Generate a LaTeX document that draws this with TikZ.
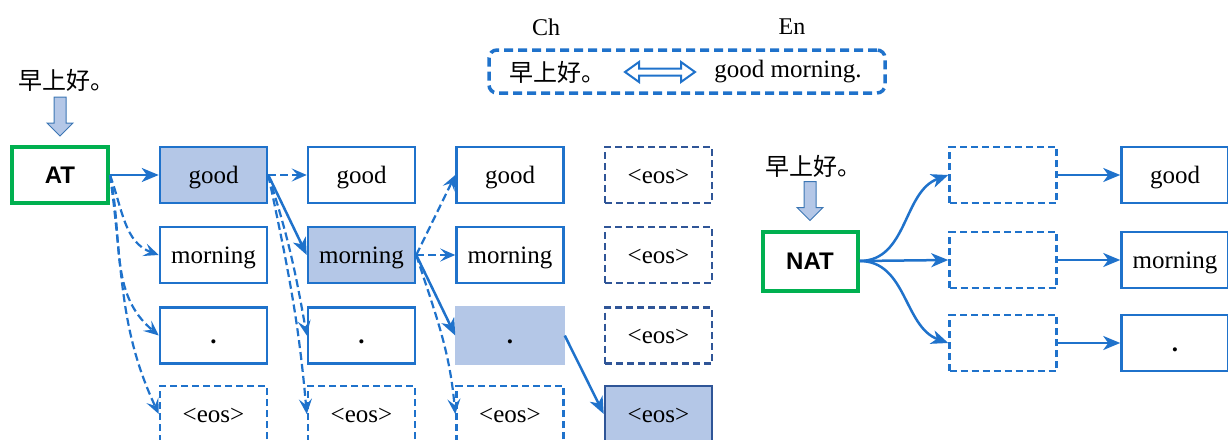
\documentclass[tikz,border=0pt]{standalone}
\usepackage{fontspec}
\setmainfont{Liberation Serif}
\setsansfont{Liberation Sans}
\newfontfamily\cjk{Noto Sans CJK SC}
\usetikzlibrary{arrows.meta,calc}
\definecolor{lblue}{HTML}{1F72CB}
\definecolor{dblue}{HTML}{2F5597}
\definecolor{sblue}{HTML}{B4C7E7}
\definecolor{mgreen}{HTML}{00B050}
\newcommand\blockdown[1]{%
  \draw[barrow] ($(#1)+(-6,-48)$) -- ($(#1)+(6,-48)$) -- ($(#1)+(6,-22)$)
    -- ($(#1)+(13,-22)$) -- ($(#1)+(0,-9)$) -- ($(#1)+(-13,-22)$)
    -- ($(#1)+(-6,-22)$) -- cycle;}
\begin{document}
\begin{tikzpicture}[x=1pt,y=-1pt]
        \tikzset{box/.style = {draw=lblue, line width=2.5pt, fill=white, minimum width=107pt, minimum height=56pt, inner sep=0pt, text height=20pt, text depth=4pt, font=\fontsize{25}{28}\selectfont}}
        \tikzset{sel/.style = {box, fill=sblue}}
        \tikzset{eosbox/.style = {box, draw=dblue, dash pattern=on 7pt off 4pt}}
        \tikzset{emptybox/.style = {box, dash pattern=on 7pt off 4pt}}
        \tikzset{model/.style = {draw=mgreen, line width=4pt, fill=white, inner sep=0pt, font=\fontsize{24}{28}\selectfont\sffamily\bfseries}}
        \tikzset{solidedge/.style = {draw=lblue, line width=2.5pt, -{Stealth[length=17pt,width=14pt,inset=5pt]}}}
        \tikzset{dashedge/.style = {draw=lblue, line width=2.2pt, dash pattern=on 8pt off 4pt, -{Stealth[length=15pt,width=13pt,inset=6pt]}}}
        \tikzset{barrow/.style = {draw=lblue!70!gray, line width=1pt, fill=sblue}}
        \tikzset{zh/.style = {font=\fontsize{24}{28}\selectfont\cjk}}

        \useasboundingbox (0,0) rectangle (1228,439);

        % legend
        \node[font=\fontsize{24}{28}\selectfont] (ch) at (546,27) {Ch};
        \node[font=\fontsize{24}{28}\selectfont] (en) at (792,27) {En};
        \node[draw=lblue, line width=3.5pt, dash pattern=on 9pt off 5pt, rounded corners=8pt, minimum width=396pt, minimum height=43pt] (legend) at (687,71.5) {};
        \node[zh] (zh0) at (557,72) {早上好。};
        \node[font=\fontsize{25}{28}\selectfont] (en0) at (788,72) {good morning.};
        \draw[draw=lblue, line width=2pt, fill=white] (625,72) -- (639,62) -- (639,68.5) -- (681,68.5) -- (681,62) -- (695,72)
            -- (681,82) -- (681,75.5) -- (639,75.5) -- (639,82) -- cycle;

        % autoregressive
        \node[zh] (zh1) at (66,80) {早上好。};
        \node[model, minimum width=96pt, minimum height=56pt] (at) at (60,175) {AT};
        \blockdown{at.north}

        \node[sel] (x1y1) at (213.5,175) {good};
        \node[box] (x1y2) at (213.5,255) {morning};
        \node[box] (x1y3) at (213.5,335.5) {\textbf{.}};
        \node[emptybox] (x1y4) at (213.5,414) {<eos>};

        \node[box] (x2y1) at (361.5,175) {good};
        \node[sel] (x2y2) at (361.5,255) {morning};
        \node[box] (x2y3) at (361.5,335.5) {\textbf{.}};
        \node[emptybox] (x2y4) at (361.5,414) {<eos>};

        \node[box] (x3y1) at (510,175) {good};
        \node[box] (x3y2) at (510,255) {morning};
        \node[sel, draw=sblue] (x3y3) at (510,335.5) {\textbf{.}};
        \node[emptybox] (x3y4) at (510,414) {<eos>};

        \node[eosbox] (x4y1) at (658.5,175) {<eos>};
        \node[eosbox] (x4y2) at (658.5,255) {<eos>};
        \node[eosbox] (x4y3) at (658.5,335.5) {<eos>};
        \node[sel, draw=dblue] (x4y4) at (658.5,414) {<eos>};

        \draw[solidedge] (at.east) -- (x1y1.west);
        \draw[dashedge] (at.east) to[out=-70,in=160] (x1y2.west);
        \draw[dashedge] (at.east) to[out=-78,in=140] (x1y3.west);
        \draw[dashedge] (at.east) to[out=-82,in=115] (x1y4.west);

        \draw[dashedge] (x1y1.east) -- (x2y1.west);
        \draw[solidedge] (x1y1.east) -- (x2y2.west);
        \draw[dashedge] (x1y1.east) to[out=-72,in=100] (x2y3.west);
        \draw[dashedge] (x1y1.east) to[out=-78,in=95] (x2y4.west);

        \draw[dashedge] (x2y2.east) -- (x3y1.west);
        \draw[dashedge] (x2y2.east) -- (x3y2.west);
        \draw[solidedge] (x2y2.east) -- (x3y3.west);
        \draw[dashedge] (x2y2.east) to[out=-72,in=95] (x3y4.west);

        \draw[solidedge] (x3y3.east) -- (x4y4.west);

        % non-autoregressive
        \node[zh] (zh2) at (813,166) {早上好。};
        \node[model, minimum width=95pt, minimum height=59pt] (nat) at (810,261) {NAT};
        \blockdown{nat.north}

        \node[emptybox] (n1y1) at (1003,175) {};
        \node[emptybox] (n1y2) at (1003,260) {};
        \node[emptybox] (n1y3) at (1003,343) {};

        \node[box] (n2y1) at (1175,175) {good};
        \node[box] (n2y2) at (1175,260) {morning};
        \node[box] (n2y3) at (1175,343) {\textbf{.}};

        \draw[solidedge] (nat.east) to[out=0,in=200] (n1y1.west);
        \draw[solidedge] (nat.east) -- (n1y2.west);
        \draw[solidedge] (nat.east) to[out=0,in=160] (n1y3.west);

        \draw[solidedge] (n1y1.east) -- (n2y1.west);
        \draw[solidedge] (n1y2.east) -- (n2y2.west);
        \draw[solidedge] (n1y3.east) -- (n2y3.west);
\end{tikzpicture}
\end{document}
